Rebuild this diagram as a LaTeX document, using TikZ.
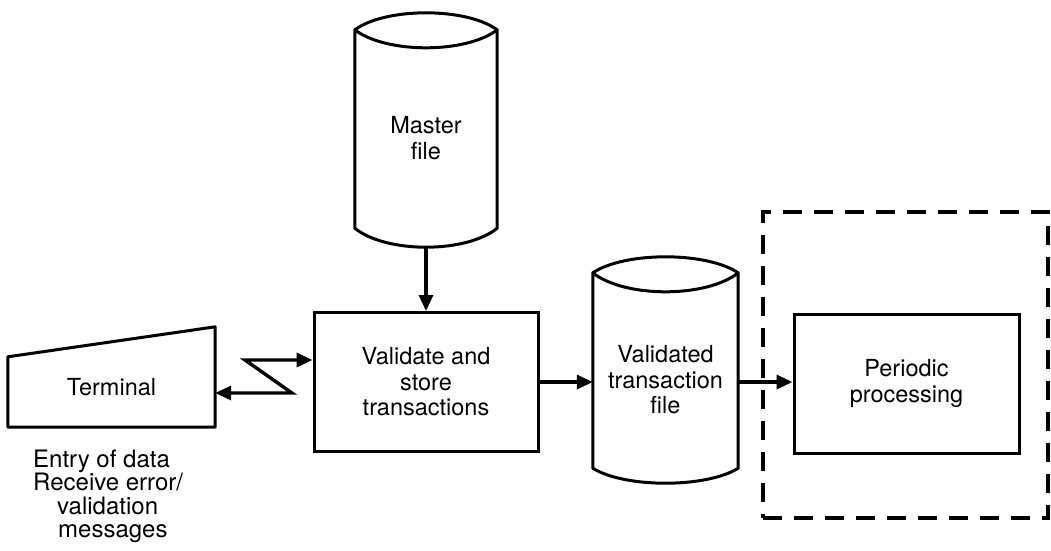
\documentclass[tikz,border=0pt]{standalone}
\usepackage{fontspec}
\setmainfont{TeX Gyre Heros}
\usetikzlibrary{arrows.meta,calc}

% Outline of a disk-file drum around a node: the node spans from the lowest
% point of the top lens down to the bottom rim.
% #1 node, #2 lens depth below rim, #3 lens rise above rim, #4 bottom bulge
\newcommand\drumoutline[4]{%
  \draw[outline]
    ($(#1.north west)+(0,-#2)$) coordinate (#1-tl)
    -- (#1.south west)
    .. controls ($(#1.south west)!0.22!(#1.south east)+(0,{4/3*#4})$)
            and ($(#1.south west)!0.78!(#1.south east)+(0,{4/3*#4})$) .. (#1.south east)
    -- ($(#1.north east)+(0,-#2)$) coordinate (#1-tr)
    .. controls ($(#1-tr)!0.22!(#1-tl)+(0,{-4/3*#3})$)
            and ($(#1-tr)!0.78!(#1-tl)+(0,{-4/3*#3})$) .. (#1-tl)
    .. controls ($(#1-tl)!0.22!(#1-tr)+(0,{4/3*#2})$)
            and ($(#1-tl)!0.78!(#1-tr)+(0,{4/3*#2})$) .. (#1-tr);
}

\tikzset{
  txt/.style={font=\fontsize{23.5}{25.5}\selectfont, align=center, inner sep=0pt},
  lbl/.style={font=\fontsize{24}{25}\selectfont, anchor=base west, inner sep=0pt},
  outline/.style={line width=3pt, line join=round},
  procbox/.style={txt, draw, line width=3pt, minimum width=#1, minimum height=139pt},
  drum/.style={txt, minimum width=#1},
  tip/.tip={Triangle[length=16pt,width=14pt]},
  flow/.style={line width=3.4pt, -tip},
  batchbox/.style={draw, line width=4pt, dash pattern=on 19pt off 12pt,
                   minimum width=285pt, minimum height=306pt, inner sep=0pt}
}

\begin{document}
\begin{tikzpicture}[x=1pt,y=-1pt]
  \useasboundingbox (0,0) rectangle (1051,550);

  % master file drum
  \node[drum=142pt, minimum height=180pt] (master) at (426,138) {Master\\file};
  \drumoutline{master}{18}{17}{19}

  % on-line validation step
  \node[procbox=224pt] (val) at (426,382) {Validate and\\store\\transactions};

  % validated transaction file drum
  \node[drum=145pt, minimum height=176pt] (vtf) at (665.5,380) {Validated\\transaction\\file};
  \drumoutline{vtf}{19}{16}{15}

  % batch part of the system
  \node[batchbox] (batch) at (905.5,365) {};
  \node[procbox=225pt] (per) at (906.5,383.5) {Periodic\\processing};

  % terminal
  \node[txt, minimum width=207pt, minimum height=80pt] (term) at (111.5,387) {Terminal};
  \draw[outline] (term.south west) -- ($(term.north west)+(0,10)$)
    -- ($(term.north east)+(0,-20)$) -- (term.south east) -- cycle;

  \node[lbl] (l1) at (33,467) {Entry of data};
  \node[lbl] (l2) at (33,490) {Receive error/};
  \node[lbl] (l3) at (57,514) {validation};
  \node[lbl] (l4) at (58,537) {messages};

  % communication link between terminal and validation step
  \coordinate (zlow) at (292,393);
  \coordinate (zhigh) at (245,360);
  \draw[flow, tip-tip, line join=miter]
    ([yshift=-6pt]term.east) -- (zlow) -- (zhigh) -- ([yshift=22pt]val.west);

  % data flows
  \draw[flow] ([yshift=-19pt]master.south) -- (val.north);
  \draw[flow] (val.east) -- (val.east -| vtf.west);
  \draw[flow] (val.east -| vtf.east) -- (val.east -| per.west);
\end{tikzpicture}
\end{document}
